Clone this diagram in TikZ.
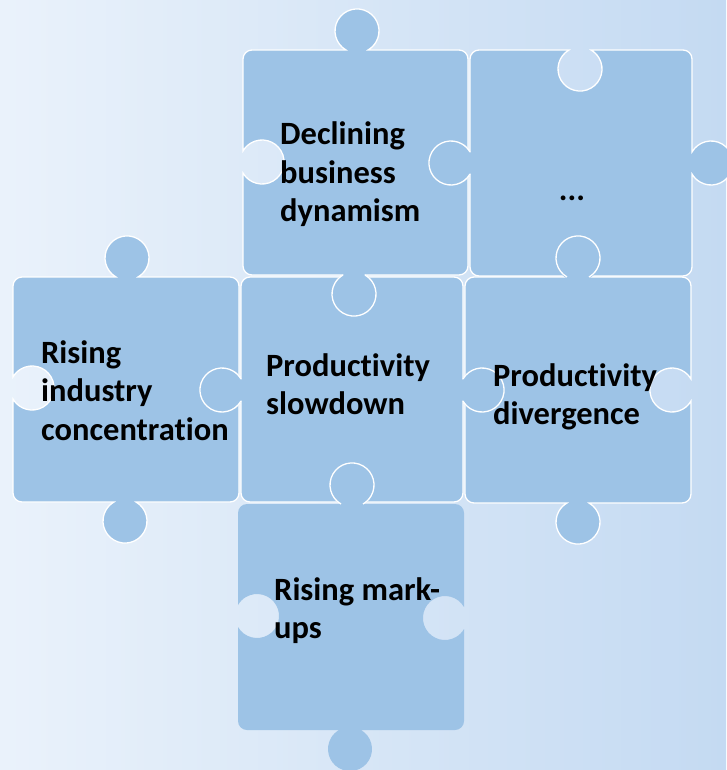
\documentclass[tikz,border=0pt]{standalone}
\usepackage{fontspec}
\setmainfont{Carlito}[Ligatures=NoCommon]
\definecolor{piecefill}{RGB}{157,195,230}
\definecolor{bgleft}{RGB}{234,242,251}
\definecolor{bgright}{RGB}{196,218,242}
\begin{document}
\begin{tikzpicture}[x=1pt,y=1pt,yscale=-1,
  piece/.style={fill=piecefill, draw=white, line width=1.3pt},
  plainpiece/.style={fill=piecefill},
  tabfill/.style={fill=piecefill},
  tabline/.style={draw=white, line width=1.3pt},
  lbl/.style={font=\fontsize{32.5}{38.5}\selectfont\bfseries, inner sep=0pt, anchor=base west, text=black}]
\shade[left color=bgleft, right color=bgright] (0,0) rectangle (726,770);
\useasboundingbox (0,0) rectangle (726,770);
% A: Declining business dynamism
\path[piece] (243,59) arc[start angle=180,end angle=270,radius=9]
 -- (346,50) arc[start angle=120,end angle=420,radius=22]
 -- (459,50) arc[start angle=270,end angle=360,radius=9]
 -- (468,152) arc[start angle=-30,end angle=-330,radius=22]
 -- (468,266) arc[start angle=0,end angle=90,radius=9]
 -- (365,275) arc[start angle=-60,end angle=240,radius=22]
 -- (252,275) arc[start angle=90,end angle=180,radius=9]
 -- (243,173) arc[start angle=150,end angle=-150,radius=22]
 -- cycle;
% B: ...
\path[piece] (470,59) arc[start angle=180,end angle=270,radius=9]
 -- (569,50) arc[start angle=240,end angle=-60,radius=22]
 -- (683,50) arc[start angle=270,end angle=360,radius=9]
 -- (692,152) arc[start angle=210,end angle=510,radius=22]
 -- (692,267) arc[start angle=0,end angle=90,radius=9]
 -- (589,276) arc[start angle=60,end angle=-240,radius=22]
 -- (479,276) arc[start angle=90,end angle=180,radius=9]
 -- (470,174) arc[start angle=30,end angle=330,radius=22]
 -- cycle;
% C: Rising industry concentration
\path[piece] (13,286) arc[start angle=180,end angle=270,radius=9]
 -- (116,277) arc[start angle=120,end angle=420,radius=22]
 -- (230,277) arc[start angle=270,end angle=360,radius=9]
 -- (239,379) arc[start angle=-30,end angle=-330,radius=22]
 -- (239,493) arc[start angle=0,end angle=90,radius=9]
 -- (136,502) arc[start angle=-60,end angle=240,radius=22]
 -- (22,502) arc[start angle=90,end angle=180,radius=9]
 -- (13,399) arc[start angle=150,end angle=-150,radius=22]
 -- cycle;
% D: Productivity slowdown
\path[piece] (241,286) arc[start angle=180,end angle=270,radius=9]
 -- (343,277) arc[start angle=240,end angle=-60,radius=22]
 -- (454,277) arc[start angle=270,end angle=360,radius=9]
 -- (463,379) arc[start angle=210,end angle=510,radius=22]
 -- (463,493) arc[start angle=0,end angle=90,radius=9]
 -- (363,502) arc[start angle=60,end angle=-240,radius=22]
 -- (250,502) arc[start angle=90,end angle=180,radius=9]
 -- (241,401) arc[start angle=30,end angle=330,radius=22]
 -- cycle;
% E: Productivity divergence
\path[piece] (465,286) arc[start angle=180,end angle=270,radius=9]
 -- (567,277) arc[start angle=120,end angle=420,radius=22]
 -- (682,277) arc[start angle=270,end angle=360,radius=9]
 -- (691,379) arc[start angle=-30,end angle=-330,radius=22]
 -- (691,494) arc[start angle=0,end angle=90,radius=9]
 -- (589,503) arc[start angle=-60,end angle=240,radius=22]
 -- (474,503) arc[start angle=90,end angle=180,radius=9]
 -- (465,401) arc[start angle=150,end angle=-150,radius=22]
 -- cycle;
% F: Rising mark-ups
\path[plainpiece] (238,513) arc[start angle=180,end angle=270,radius=9]
 -- (341,504) arc[start angle=120,end angle=420,radius=22]
 -- (455,504) arc[start angle=270,end angle=360,radius=9]
 -- (464,607) arc[start angle=-30,end angle=-330,radius=22]
 -- (464,721) arc[start angle=0,end angle=90,radius=9]
 -- (361,730) arc[start angle=-60,end angle=240,radius=22]
 -- (247,730) arc[start angle=90,end angle=180,radius=9]
 -- (238,627) arc[start angle=150,end angle=-150,radius=22]
 -- cycle;
% internal tabs redrawn over the neighbours' blanks
\fill[tabfill] (354,296) circle[radius=24];
\path[tabline] (365,275) arc[start angle=-60,end angle=240,radius=22];
\fill[tabfill] (449,163) circle[radius=24];
\path[tabline] (470,174) arc[start angle=30,end angle=330,radius=22];
\fill[tabfill] (220,390) circle[radius=24];
\path[tabline] (241,401) arc[start angle=30,end angle=330,radius=22];
\fill[tabfill] (484,390) circle[radius=24];
\path[tabline] (463,379) arc[start angle=210,end angle=510,radius=22];
\fill[tabfill] (578,257) circle[radius=24];
\path[tabline] (567,277) arc[start angle=120,end angle=420,radius=22];
\fill[tabfill] (352,483) circle[radius=24];
\path[tabline] (341,504) arc[start angle=120,end angle=420,radius=22];
% labels
\node[lbl] (tA) at (280,145) {\begin{tabular}[t]{@{}l@{}}Declining\\business\\dynamism\end{tabular}};
\node[lbl, anchor=base] (tB) at (572,200) {...};
\node[lbl] (tC) at (41,363) {\begin{tabular}[t]{@{}l@{}}Rising\\industry\\concentration\end{tabular}};
\node[lbl] (tD) at (266,376) {\begin{tabular}[t]{@{}l@{}}Productivity\\slowdown\end{tabular}};
\node[lbl] (tE) at (493,386) {\begin{tabular}[t]{@{}l@{}}Productivity\\divergence\end{tabular}};
\node[lbl] (tF) at (274,600) {\begin{tabular}[t]{@{}l@{}}Rising mark-\\ups\end{tabular}};
\end{tikzpicture}
\end{document}
